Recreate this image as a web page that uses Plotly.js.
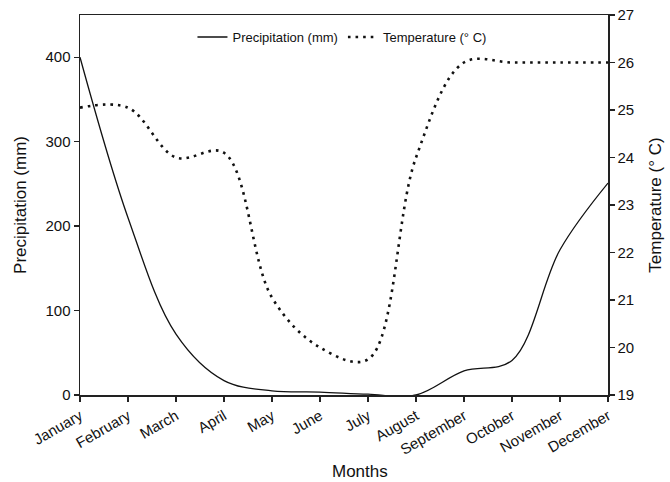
<!DOCTYPE html>
<html>
<head>
<meta charset="utf-8">
<script src="https://cdn.plot.ly/plotly-3.0.1.min.js"></script>
<style>html,body{margin:0;padding:0;background:#fff;}#chart{width:670px;height:482px;}</style>
</head>
<body>
<div id="chart"></div>
<script>
var months = ["January","February","March","April","May","June","July","August","September","October","November","December"];
var precipitation = [400, 210, 72, 17, 5, 3.5, 1, 0, 28.5, 41, 172, 251];
var temperature = [25.05, 25.05, 24.0, 24.1, 21.05, 20.0, 19.75, 24.0, 26.0, 26.0, 26.0, 26.0];

var fontFam = "Liberation Sans, Arial, sans-serif";

var traces = [
  {
    x: months, y: precipitation, type: "scatter", mode: "lines",
    name: "Precipitation (mm)",
    line: {color: "#111", width: 1.3, shape: "spline", smoothing: 1},
    yaxis: "y"
  },
  {
    x: months, y: temperature, type: "scatter", mode: "lines",
    name: "Temperature (° C)",
    line: {color: "#111", width: 2.6, shape: "spline", smoothing: 1, dash: "2.6px,5px"},
    yaxis: "y2"
  }
];

var layout = {
  width: 670, height: 482,
  paper_bgcolor: "#fff", plot_bgcolor: "#fff",
  margin: {l: 80, r: 62, t: 15, b: 87},
  font: {family: fontFam, color: "#111", size: 14},
  showlegend: true,
  legend: {
    orientation: "h", x: 0.213, xanchor: "left", y: 0.942, yanchor: "middle",
    font: {size: 13, family: fontFam, color: "#111"}, bgcolor: "rgba(0,0,0,0)"
  },
  xaxis: {
    type: "category", range: [0, 11],
    showline: true, linecolor: "#222", linewidth: 1.5, mirror: true,
    ticks: "outside", ticklen: 5, tickcolor: "#222", tickwidth: 1.3,
    tickangle: -30, tickfont: {size: 15},
    showgrid: false, zeroline: false
  },
  yaxis: {
    range: [0, 450], dtick: 100, tick0: 0,
    showline: true, linecolor: "#222", linewidth: 1.5,
    ticks: "outside", ticklen: 5, tickcolor: "#222", tickwidth: 1.3,
    tickfont: {size: 15},
    showgrid: false, zeroline: false,
    title: {text: "Precipitation (mm)", font: {size: 17}, standoff: 14}
  },
  yaxis2: {
    range: [19, 27], dtick: 1, tick0: 19,
    overlaying: "y", side: "right",
    showline: true, linecolor: "#222", linewidth: 1.5,
    ticks: "outside", ticklen: 5, tickcolor: "#222", tickwidth: 1.3,
    tickfont: {size: 15},
    showgrid: false, zeroline: false,
    title: {text: "Temperature (° C)", font: {size: 17}, standoff: 16}
  },
  annotations: [
    {text: "Months", xref: "paper", yref: "paper", x: 0.53, y: -0.2,
     xanchor: "center", yanchor: "middle", showarrow: false, font: {size: 17}}
  ]
};

Plotly.newPlot("chart", traces, layout, {displayModeBar: false, staticPlot: true});
</script>
</body>
</html>
